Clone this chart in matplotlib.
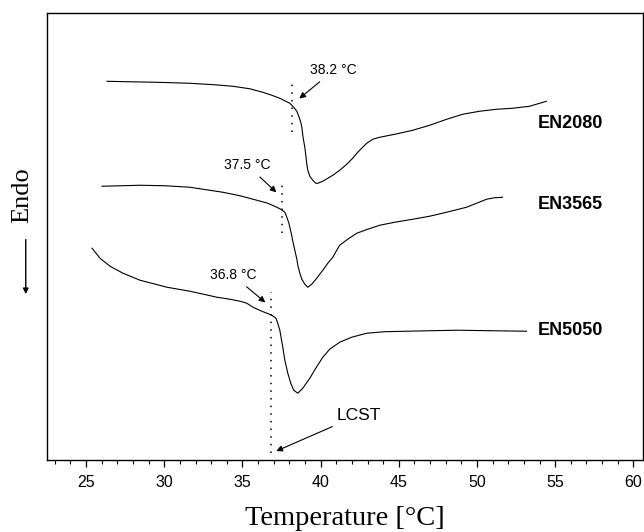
import numpy as np
import matplotlib.pyplot as plt
from matplotlib.ticker import MultipleLocator

# DSC traces (temperature in C, heat flow in arbitrary units)
t_2080 = [26.34, 27.81, 29.53, 31.64, 33.24, 34.39, 35.47, 36.30, 36.88, 37.39, 37.77,
          38.03, 38.28, 38.48, 38.60, 38.73, 38.80, 38.86, 38.92, 38.99, 39.05, 39.11,
          39.18, 39.31, 39.50, 39.69, 39.82, 40.14, 40.46, 40.78, 41.22, 41.67, 42.05,
          42.37, 42.69, 42.95, 43.33, 43.78, 44.74, 45.89, 46.97, 48.06, 49.08, 50.16,
          51.25, 52.27, 53.36, 54.44]
hf_2080 = [37.9, 37.85, 37.8, 37.7, 37.55, 37.4, 37.15, 36.8, 36.5, 36.2, 35.9,
           35.7, 35.3, 34.9, 34.4, 33.8, 33.3, 32.5, 31.9, 31.3, 30.5, 29.7,
           29.0, 28.4, 28.0, 27.7, 27.7, 27.9, 28.2, 28.5, 29.0, 29.6, 30.2,
           30.8, 31.3, 31.7, 32.1, 32.3, 32.6, 33.0, 33.5, 34.1, 34.6, 34.9,
           35.1, 35.2, 35.4, 35.9]

t_3565 = [26.02, 28.45, 30.05, 31.64, 33.75, 34.84, 35.92, 36.62, 37.20, 37.45, 37.71,
          37.84, 37.97, 38.03, 38.16, 38.22, 38.35, 38.48, 38.54, 38.67, 38.80, 38.99,
          39.18, 39.43, 39.75, 40.14, 40.46, 40.78, 41.03, 41.22, 41.73, 42.31, 43.01,
          43.78, 44.74, 45.89, 46.97, 48.06, 49.33, 49.97, 50.61, 51.12, 51.63]
hf_3565 = [27.4, 27.5, 27.45, 27.3, 26.8, 26.45, 26.0, 25.7, 25.3, 25.1, 24.8,
           24.3, 23.7, 23.3, 22.4, 21.9, 21.0, 20.1, 19.5, 18.7, 18.1, 17.6,
           17.3, 17.6, 18.2, 19.0, 19.7, 20.3, 21.0, 21.5, 22.1, 22.7, 23.1,
           23.5, 23.8, 24.1, 24.4, 24.8, 25.3, 25.7, 26.1, 26.25, 26.3]

t_5050 = [25.38, 25.89, 26.53, 27.36, 28.45, 30.17, 31.64, 33.37, 34.20, 34.84, 35.28,
          35.67, 36.24, 36.88, 37.14, 37.26, 37.39, 37.58, 37.71, 37.90, 38.09, 38.28,
          38.54, 38.86, 39.31, 39.69, 40.14, 40.58, 41.22, 41.99, 42.95, 44.10, 45.50,
          48.70, 50.80, 53.17]
hf_5050 = [21.2, 20.2, 19.4, 18.7, 18.0, 17.3, 16.9, 16.3, 16.1, 15.9, 15.7,
           15.3, 14.9, 14.5, 14.2, 13.7, 13.0, 11.3, 10.0, 8.7, 7.7, 7.0,
           6.7, 7.2, 8.2, 9.2, 10.3, 11.1, 11.8, 12.3, 12.7, 12.85, 12.9,
           13.0, 12.95, 12.9]

names = ['EN2080', 'EN3565', 'EN5050']
onsets = [38.2, 37.5, 36.8]
onset_labels = ['38.2 °C', '37.5 °C', '36.8 °C']

fig = plt.figure(figsize=(6.44, 5.32), dpi=100)
ax = fig.add_axes([0.073, 0.135, 0.925, 0.840])

for t, hf in [(t_2080, hf_2080), (t_3565, hf_3565), (t_5050, hf_5050)]:
    ax.plot(t, hf, color='black', lw=0.8)

# dotted onset markers
ax.plot([onsets[0]] * 2, [32.8, 37.7], color='black', lw=1.1, ls=(0, (1, 4)))
ax.plot([onsets[1]] * 2, [22.7, 27.7], color='black', lw=1.1, ls=(0, (1, 4)))
ax.plot([onsets[2]] * 2, [0.7, 16.8], color='black', lw=1.1, ls=(0, (1, 4)))

arrow = dict(arrowstyle='-|>', color='black', lw=0.8, mutation_scale=9)
ax.annotate(onset_labels[0], xy=(38.5, 36.0), xytext=(39.35, 39.0), fontsize=10,
            arrowprops=arrow, ha='left', va='center', family='Liberation Sans')
ax.annotate(onset_labels[1], xy=(37.3, 26.6), xytext=(36.8, 29.5), fontsize=10,
            arrowprops=arrow, ha='right', va='center', family='Liberation Sans')
ax.annotate(onset_labels[2], xy=(36.6, 15.6), xytext=(35.87, 18.5), fontsize=10,
            arrowprops=arrow, ha='right', va='center', family='Liberation Sans')
ax.annotate('LCST', xy=(37.0, 0.8), xytext=(41.0, 4.5), fontsize=12.5,
            arrowprops=arrow, ha='left', va='center', family='Liberation Sans')

for name, y in zip(names, [33.7, 25.6, 13.0]):
    ax.text(53.9, y, name, fontsize=13, fontweight='bold', va='center',
            family='Liberation Sans')

ax.set_xlim(22.5, 60.6)
ax.set_ylim(0, 44.7)
ax.set_yticks([])
ax.xaxis.set_major_locator(MultipleLocator(5))
ax.xaxis.set_minor_locator(MultipleLocator(1))
ax.tick_params(axis='x', which='major', direction='out', length=5, width=0.9,
               labelsize=11.5, pad=6)
ax.tick_params(axis='x', which='minor', direction='out', length=3, width=0.8)
for lab in ax.get_xticklabels():
    lab.set_family('Liberation Sans')
for s in ax.spines.values():
    s.set_linewidth(1.0)

ax.set_xlabel('Temperature [°C]', family='Liberation Serif', fontsize=20.5, labelpad=11)

fig.text(0.034, 0.633, 'Endo', rotation=90, family='Liberation Serif', fontsize=19,
         ha='center', va='center')
ax.annotate('', xy=(0.04, 0.442), xytext=(0.04, 0.555), xycoords='figure fraction',
            textcoords='figure fraction',
            arrowprops=dict(arrowstyle='-|>', color='black', lw=1.0, mutation_scale=8))

fig.savefig('out.png', dpi=100)
